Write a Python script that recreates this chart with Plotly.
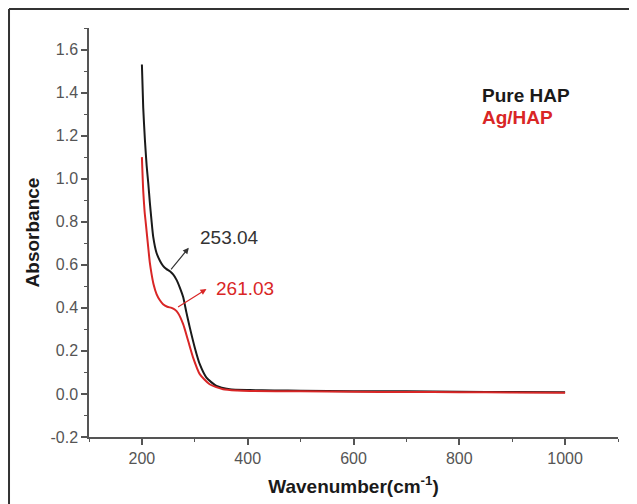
import plotly.graph_objects as go

# Pure HAP (black)
pure_x = [200, 202.5, 205.7, 209, 212, 215, 218, 221.4, 227.7, 234, 240, 246.6, 253,
          259, 265.5, 271.7, 278, 284, 290.6, 300, 309.4, 322, 341, 366, 404, 450,
          500, 600, 700, 800, 900, 1000]
pure_y = [1.53, 1.33, 1.18, 1.06, 0.98, 0.89, 0.81, 0.73, 0.655, 0.619, 0.595, 0.58, 0.57,
          0.555, 0.53, 0.494, 0.45, 0.38, 0.308, 0.215, 0.138, 0.076, 0.037, 0.022, 0.018, 0.016,
          0.015, 0.013, 0.012, 0.010, 0.009, 0.008]

# Ag/HAP (red)
ag_x = [200, 202.5, 205, 207.5, 212, 215, 218.3, 222, 227.7, 234, 240, 248, 256, 262,
        268.5, 278, 287.4, 296.8, 309.4, 328, 353.4, 380, 404, 500, 600, 700, 800, 900, 1000]
ag_y = [1.10, 0.944, 0.85, 0.79, 0.68, 0.61, 0.557, 0.51, 0.464, 0.435, 0.417, 0.405, 0.40, 0.392,
        0.375, 0.324, 0.247, 0.169, 0.092, 0.045, 0.022, 0.016, 0.014, 0.012, 0.010, 0.009,
        0.008, 0.007, 0.006]

series_names = ["Pure HAP", "Ag/HAP"]
peak_labels = ["253.04", "261.03"]
y_tick_vals = [-0.2, 0.0, 0.2, 0.4, 0.6, 0.8, 1.0, 1.2, 1.4, 1.6]
y_tick_text = ["-0.2", "0.0", "0.2", "0.4", "0.6", "0.8", "1.0", "1.2", "1.4", "1.6"]

BLACK = "#1a1a1a"
RED = "#d92626"

fig = go.Figure()
fig.add_trace(go.Scatter(x=pure_x, y=pure_y, mode="lines", name=series_names[0],
                         line=dict(color=BLACK, width=2, shape="spline", smoothing=0.6)))
fig.add_trace(go.Scatter(x=ag_x, y=ag_y, mode="lines", name=series_names[1],
                         line=dict(color=RED, width=2, shape="spline", smoothing=0.6)))

font_family = "Liberation Sans, Arial, sans-serif"

annotations = [
    dict(x=366, y=0.726, xref="x", yref="y", text=peak_labels[0], showarrow=False,
         font=dict(size=19, color="#333333", family=font_family)),
    dict(x=394, y=0.488, xref="x", yref="y", text=peak_labels[1], showarrow=False,
         font=dict(size=19, color=RED, family=font_family)),
    dict(x=288.7, y=0.679, ax=252.8, ay=0.572, xref="x", yref="y", axref="x", ayref="y",
         text="", showarrow=True, arrowhead=2, arrowsize=1, arrowwidth=1.2, arrowcolor="#333333"),
    dict(x=322, y=0.487, ax=265.5, ay=0.40, xref="x", yref="y", axref="x", ayref="y",
         text="", showarrow=True, arrowhead=2, arrowsize=1, arrowwidth=1.2, arrowcolor=RED),
    dict(x=0.739, y=0.836, xref="paper", yref="paper", xanchor="left", yanchor="middle",
         text="<b>" + series_names[0] + "</b>", showarrow=False,
         font=dict(size=19, color=BLACK, family=font_family)),
    dict(x=0.739, y=0.780, xref="paper", yref="paper", xanchor="left", yanchor="middle",
         text="<b>" + series_names[1] + "</b>", showarrow=False,
         font=dict(size=19, color=RED, family=font_family)),
]

shapes = [
    dict(type="line", xref="paper", yref="paper", x0=-0.1512, y0=1.0465, x1=1.1, y1=1.0465,
         line=dict(color="#333333", width=2)),
    dict(type="line", xref="paper", yref="paper", x0=-0.1512, y0=1.0465, x1=-0.1512, y1=-0.25,
         line=dict(color="#333333", width=2)),
]

# the page body adds an 8px offset, so the figure is 8px smaller each way
fig.update_layout(
    width=629, height=496,
    margin=dict(l=81, r=19, t=20, b=67, autoexpand=False),
    paper_bgcolor="white", plot_bgcolor="white",
    showlegend=False,
    font=dict(family=font_family, color="#555555"),
    annotations=annotations,
    shapes=shapes,
)

fig.update_xaxes(
    range=[100, 1100], tick0=0, dtick=200, automargin=False,
    showgrid=False, zeroline=False,
    showline=True, linecolor="#555555", linewidth=1.5,
    ticks="outside", ticklen=6, tickwidth=1.5, tickcolor="#555555",
    minor=dict(dtick=100, tick0=0, ticks="outside", ticklen=3, tickcolor="#555555", tickwidth=1.2),
    tickfont=dict(size=16, color="#555555"),
    title=dict(text="<b>Wavenumber(cm<sup>-1</sup>)</b>", font=dict(size=19, color=BLACK), standoff=14),
)
fig.update_yaxes(
    range=[-0.2, 1.7], tickmode="array", tickvals=y_tick_vals, ticktext=y_tick_text,
    automargin=False,
    showgrid=False, zeroline=False,
    showline=True, linecolor="#555555", linewidth=1.5,
    ticks="outside", ticklen=6, tickwidth=1.5, tickcolor="#555555",
    minor=dict(dtick=0.1, tick0=0, ticks="outside", ticklen=3, tickcolor="#555555", tickwidth=1.2),
    tickfont=dict(size=16, color="#555555"),
    title=dict(text="<b>Absorbance</b>", font=dict(size=19, color=BLACK), standoff=6),
)

fig.write_html(
    "out.html",
    post_script="document.documentElement.style.overflow='hidden';document.body.style.overflow='hidden';",
)
